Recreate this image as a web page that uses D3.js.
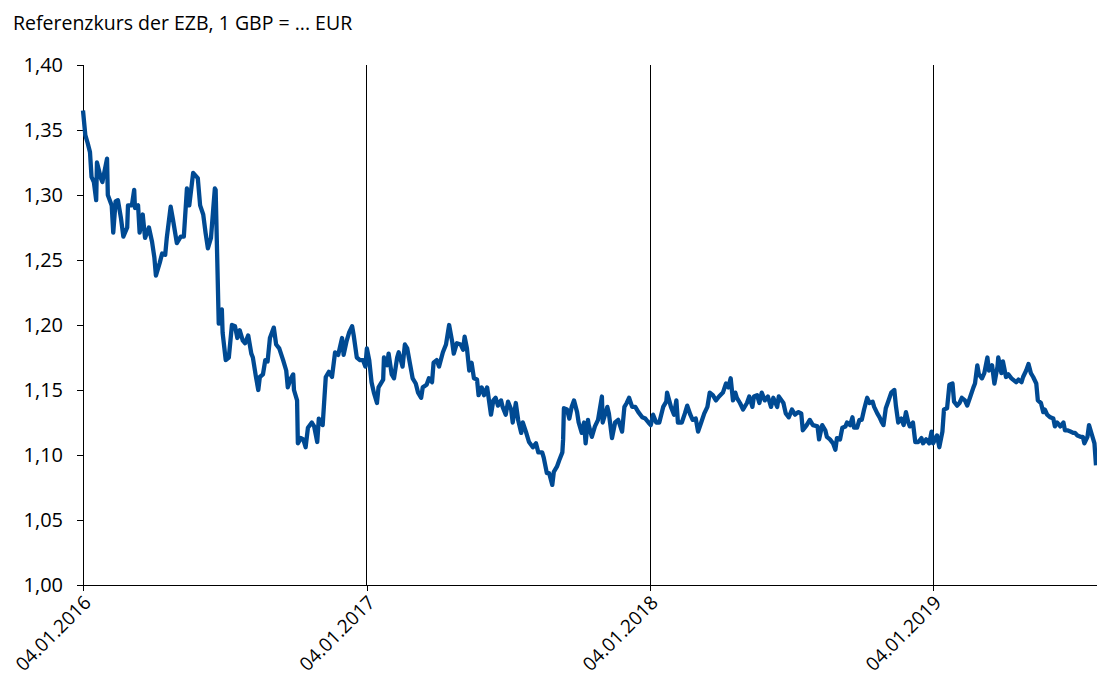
<!DOCTYPE html>
<head>
<meta charset="utf-8">
<title>Referenzkurs der EZB - GBP/EUR</title>
<style>
    body {
        margin: 0;
        background: white;
    }

    .title {
        font: 19.5px "Open Sans";
        fill: #000;
    }

    .axis text {
        font: 20px "Open Sans";
        fill: #000;
    }

    .axis--x text {
        font-size: 19px;
    }

    .axis path,
    .axis line,
    .grid line {
        fill: none;
        stroke: #000;
        stroke-width: 1px;
        shape-rendering: crispEdges;
    }

    .line {
        fill: none;
        stroke-width: 4.3px;
        stroke: #004a93;
        stroke-linejoin: round;
    }
</style>
</head>
<body>
<svg></svg>
<script src="https://cdn.jsdelivr.net/npm/d3@7"></script>
<script>

    // Referenzkurs der EZB, 1 GBP = ... EUR
    var dates2016 = ["04.01.2016", "07.01.2016", "10.01.2016", "13.01.2016", "15.01.2016", "18.01.2016", "21.01.2016", "22.01.2016",
        "27.01.2016", "29.01.2016", "04.02.2016", "05.02.2016", "10.02.2016", "12.02.2016", "15.02.2016", "18.02.2016",
        "22.02.2016", "25.02.2016", "01.03.2016", "02.03.2016", "07.03.2016", "10.03.2016", "11.03.2016", "15.03.2016",
        "17.03.2016", "21.03.2016", "24.03.2016", "29.03.2016", "02.04.2016", "05.04.2016", "07.04.2016", "12.04.2016",
        "15.04.2016", "19.04.2016", "21.04.2016", "26.04.2016", "29.04.2016", "04.05.2016", "09.05.2016", "13.05.2016",
        "17.05.2016", "20.05.2016", "25.05.2016", "31.05.2016", "03.06.2016", "07.06.2016", "10.06.2016", "13.06.2016",
        "17.06.2016", "20.06.2016", "22.06.2016", "23.06.2016", "27.06.2016", "01.07.2016", "02.07.2016", "06.07.2016",
        "10.07.2016", "14.07.2016", "18.07.2016", "21.07.2016", "24.07.2016", "28.07.2016", "31.07.2016", "04.08.2016",
        "08.08.2016", "10.08.2016", "14.08.2016", "17.08.2016", "19.08.2016", "23.08.2016", "26.08.2016", "29.08.2016",
        "01.09.2016", "06.09.2016", "09.09.2016", "13.09.2016", "18.09.2016", "22.09.2016", "24.09.2016", "28.09.2016",
        "01.10.2016", "02.10.2016", "06.10.2016", "07.10.2016", "11.10.2016", "14.10.2016", "17.10.2016", "20.10.2016",
        "25.10.2016", "28.10.2016", "01.11.2016", "03.11.2016", "06.11.2016", "08.11.2016", "12.11.2016", "16.11.2016",
        "20.11.2016", "24.11.2016", "28.11.2016", "03.12.2016", "05.12.2016", "09.12.2016", "12.12.2016", "16.12.2016",
        "18.12.2016", "22.12.2016", "26.12.2016", "30.12.2016"];
    var rates2016 = [1.365, 1.346, 1.340, 1.333, 1.314, 1.310, 1.296, 1.325,
        1.313, 1.310, 1.328, 1.300, 1.292, 1.271, 1.295, 1.296,
        1.282, 1.268, 1.275, 1.292, 1.292, 1.304, 1.290, 1.292,
        1.271, 1.285, 1.267, 1.275, 1.264, 1.252, 1.238, 1.248,
        1.255, 1.254, 1.267, 1.291, 1.281, 1.263, 1.268, 1.268,
        1.305, 1.292, 1.317, 1.313, 1.292, 1.285, 1.271, 1.259,
        1.267, 1.290, 1.305, 1.304, 1.201, 1.212, 1.194, 1.173,
        1.175, 1.200, 1.199, 1.190, 1.196, 1.188, 1.186, 1.192,
        1.178, 1.175, 1.160, 1.150, 1.160, 1.162, 1.173, 1.172,
        1.190, 1.198, 1.185, 1.182, 1.173, 1.165, 1.152, 1.159,
        1.162, 1.150, 1.142, 1.109, 1.113, 1.112, 1.106, 1.121,
        1.125, 1.122, 1.110, 1.128, 1.125, 1.123, 1.160, 1.164,
        1.160, 1.179, 1.177, 1.190, 1.177, 1.188, 1.194, 1.199,
        1.192, 1.175, 1.173, 1.173];

    var dates2017 = ["02.01.2017", "04.01.2017", "07.01.2017", "10.01.2017", "13.01.2017", "17.01.2017", "19.01.2017", "25.01.2017",
        "26.01.2017", "30.01.2017", "01.02.2017", "05.02.2017", "08.02.2017", "12.02.2017", "14.02.2017", "19.02.2017",
        "22.02.2017", "25.02.2017", "28.02.2017", "04.03.2017", "08.03.2017", "11.03.2017", "15.03.2017", "17.03.2017",
        "22.03.2017", "25.03.2017", "29.03.2017", "31.03.2017", "04.04.2017", "07.04.2017", "12.04.2017", "16.04.2017",
        "20.04.2017", "24.04.2017", "26.04.2017", "30.04.2017", "05.05.2017", "08.05.2017", "10.05.2017", "13.05.2017",
        "16.05.2017", "19.05.2017", "22.05.2017", "26.05.2017", "28.05.2017", "01.06.2017", "04.06.2017", "08.06.2017",
        "09.06.2017", "13.06.2017", "16.06.2017", "19.06.2017", "22.06.2017", "26.06.2017", "28.06.2017", "02.07.2017",
        "05.07.2017", "09.07.2017", "11.07.2017", "15.07.2017", "18.07.2017", "22.07.2017", "24.07.2017", "28.07.2017",
        "01.08.2017", "06.08.2017", "10.08.2017", "13.08.2017", "18.08.2017", "20.08.2017", "24.08.2017", "27.08.2017",
        "31.08.2017", "02.09.2017", "06.09.2017", "09.09.2017", "13.09.2017", "14.09.2017", "15.09.2017", "19.09.2017",
        "22.09.2017", "25.09.2017", "28.09.2017", "02.10.2017", "04.10.2017", "08.10.2017", "11.10.2017", "13.10.2017",
        "16.10.2017", "17.10.2017", "21.10.2017", "25.10.2017", "29.10.2017", "03.11.2017", "04.11.2017", "10.11.2017",
        "12.11.2017", "16.11.2017", "20.11.2017", "24.11.2017", "29.11.2017", "02.12.2017", "05.12.2017", "08.12.2017",
        "12.12.2017", "16.12.2017", "20.12.2017", "25.12.2017", "29.12.2017"];
    var rates2017 = [1.168, 1.182, 1.173, 1.156, 1.148, 1.140, 1.152, 1.158,
        1.175, 1.169, 1.178, 1.162, 1.159, 1.175, 1.179, 1.168,
        1.185, 1.182, 1.172, 1.159, 1.155, 1.148, 1.144, 1.152,
        1.154, 1.159, 1.156, 1.171, 1.173, 1.168, 1.179, 1.185,
        1.200, 1.187, 1.178, 1.186, 1.185, 1.181, 1.191, 1.182,
        1.165, 1.171, 1.159, 1.158, 1.146, 1.152, 1.146, 1.152,
        1.148, 1.131, 1.142, 1.144, 1.138, 1.142, 1.137, 1.131,
        1.141, 1.135, 1.125, 1.140, 1.127, 1.117, 1.125, 1.118,
        1.110, 1.106, 1.109, 1.102, 1.102, 1.098, 1.086, 1.086,
        1.077, 1.087, 1.091, 1.096, 1.102, 1.112, 1.136, 1.135,
        1.128, 1.137, 1.142, 1.133, 1.125, 1.117, 1.125, 1.109,
        1.127, 1.123, 1.114, 1.122, 1.127, 1.145, 1.125, 1.137,
        1.132, 1.113, 1.125, 1.127, 1.118, 1.137, 1.140, 1.144,
        1.137, 1.137, 1.133, 1.129, 1.128];

    var dates2018 = ["02.01.2018", "05.01.2018", "08.01.2018", "12.01.2018", "16.01.2018", "21.01.2018", "25.01.2018", "26.01.2018",
        "31.01.2018", "04.02.2018", "07.02.2018", "09.02.2018", "14.02.2018", "18.02.2018", "21.02.2018", "25.02.2018",
        "28.02.2018", "04.03.2018", "07.03.2018", "11.03.2018", "15.03.2018", "19.03.2018", "22.03.2018", "26.03.2018",
        "30.03.2018", "03.04.2018", "08.04.2018", "12.04.2018", "15.04.2018", "18.04.2018", "21.04.2018", "24.04.2018",
        "26.04.2018", "30.04.2018", "04.05.2018", "09.05.2018", "12.05.2018", "16.05.2018", "18.05.2018", "22.05.2018",
        "25.05.2018", "28.05.2018", "01.06.2018", "05.06.2018", "09.06.2018", "12.06.2018", "17.06.2018", "19.06.2018",
        "25.06.2018", "28.06.2018", "02.07.2018", "06.07.2018", "10.07.2018", "14.07.2018", "18.07.2018", "20.07.2018",
        "25.07.2018", "29.07.2018", "02.08.2018", "08.08.2018", "10.08.2018", "14.08.2018", "18.08.2018", "20.08.2018",
        "24.08.2018", "28.08.2018", "31.08.2018", "02.09.2018", "06.09.2018", "09.09.2018", "13.09.2018", "15.09.2018",
        "19.09.2018", "22.09.2018", "24.09.2018", "28.09.2018", "01.10.2018", "04.10.2018", "07.10.2018", "11.10.2018",
        "14.10.2018", "18.10.2018", "20.10.2018", "24.10.2018", "27.10.2018", "30.10.2018", "01.11.2018", "04.11.2018",
        "07.11.2018", "11.11.2018", "15.11.2018", "17.11.2018", "20.11.2018", "24.11.2018", "27.11.2018", "30.11.2018",
        "03.12.2018", "05.12.2018", "09.12.2018", "12.12.2018", "16.12.2018", "20.12.2018", "22.12.2018", "26.12.2018",
        "30.12.2018"];
    var rates2018 = [1.125, 1.123, 1.131, 1.125, 1.125, 1.137, 1.141, 1.148,
        1.137, 1.131, 1.142, 1.125, 1.125, 1.132, 1.138, 1.131,
        1.127, 1.128, 1.118, 1.125, 1.132, 1.137, 1.148, 1.146,
        1.142, 1.145, 1.148, 1.155, 1.152, 1.159, 1.142, 1.148,
        1.144, 1.140, 1.135, 1.140, 1.145, 1.137, 1.145, 1.146,
        1.140, 1.148, 1.142, 1.145, 1.137, 1.144, 1.137, 1.145,
        1.140, 1.132, 1.129, 1.135, 1.131, 1.133, 1.132, 1.119,
        1.123, 1.127, 1.123, 1.122, 1.112, 1.123, 1.119, 1.114,
        1.112, 1.109, 1.104, 1.113, 1.112, 1.121, 1.122, 1.125,
        1.123, 1.129, 1.121, 1.121, 1.127, 1.127, 1.135, 1.144,
        1.140, 1.141, 1.137, 1.132, 1.129, 1.125, 1.123, 1.136,
        1.141, 1.148, 1.150, 1.138, 1.125, 1.128, 1.123, 1.133,
        1.125, 1.122, 1.125, 1.110, 1.110, 1.113, 1.109, 1.112,
        1.109];

    var dates2019 = ["02.01.2019", "04.01.2019", "09.01.2019", "12.01.2019", "16.01.2019", "18.01.2019", "22.01.2019", "25.01.2019",
        "29.01.2019", "31.01.2019", "04.02.2019", "07.02.2019", "10.02.2019", "14.02.2019", "17.02.2019", "21.02.2019",
        "25.02.2019", "27.02.2019", "02.03.2019", "04.03.2019", "08.03.2019", "11.03.2019", "15.03.2019", "17.03.2019",
        "21.03.2019", "24.03.2019", "28.03.2019", "29.03.2019", "02.04.2019", "04.04.2019", "08.04.2019", "11.04.2019",
        "15.04.2019", "17.04.2019", "21.04.2019", "24.04.2019", "28.04.2019", "30.04.2019", "04.05.2019", "07.05.2019",
        "10.05.2019", "13.05.2019", "17.05.2019", "19.05.2019", "23.05.2019", "26.05.2019", "28.05.2019", "31.05.2019",
        "04.06.2019", "08.06.2019", "10.06.2019", "13.06.2019", "17.06.2019", "21.06.2019", "23.06.2019", "26.06.2019",
        "30.06.2019", "04.07.2019", "06.07.2019", "09.07.2019", "13.07.2019", "16.07.2019", "18.07.2019", "22.07.2019",
        "24.07.2019", "28.07.2019", "31.07.2019", "02.08.2019"];
    var rates2019 = [1.118, 1.109, 1.115, 1.106, 1.118, 1.135, 1.136, 1.154,
        1.155, 1.141, 1.138, 1.140, 1.144, 1.142, 1.138, 1.145,
        1.152, 1.155, 1.169, 1.162, 1.159, 1.163, 1.175, 1.165,
        1.169, 1.155, 1.168, 1.175, 1.163, 1.172, 1.160, 1.162,
        1.159, 1.158, 1.156, 1.158, 1.156, 1.160, 1.165, 1.170,
        1.163, 1.160, 1.155, 1.142, 1.140, 1.133, 1.135, 1.131,
        1.129, 1.128, 1.122, 1.125, 1.122, 1.125, 1.119, 1.119,
        1.118, 1.117, 1.117, 1.115, 1.114, 1.114, 1.109, 1.114,
        1.123, 1.115, 1.109, 1.092];

    var yTicks = [1.00, 1.05, 1.10, 1.15, 1.20, 1.25, 1.30, 1.35, 1.40];
    var xTickLabels = ["04.01.2016", "04.01.2017", "04.01.2018", "04.01.2019"];
    var titleText = "Referenzkurs der EZB, 1 GBP = ... EUR";

    var parseDate = d3.timeParse("%d.%m.%Y"),
        formatDate = d3.timeFormat("%d.%m.%Y"),
        de = d3.formatLocale({decimal: ",", thousands: ".", grouping: [3], currency: ["", " €"]}),
        formatRate = de.format(".2f");

    var allDates = dates2016.concat(dates2017, dates2018, dates2019),
        allRates = rates2016.concat(rates2017, rates2018, rates2019);

    var data = allDates.map(function (d, i) {
        return {date: parseDate(d), value: allRates[i]};
    });

    var svg = d3.select("svg")
        .attr("width", 1097)
        .attr("height", 682);

    var margin = {top: 65, right: 1, bottom: 97, left: 83},
        width = +svg.attr("width") - margin.left - margin.right,
        height = +svg.attr("height") - margin.top - margin.bottom;

    svg.append("text")
        .attr("class", "title")
        .attr("x", 13)
        .attr("y", 30)
        .text(titleText);

    var g = svg.append("g")
        .attr("transform", "translate(" + margin.left + "," + margin.top + ")");

    var x = d3.scaleTime()
        .domain([parseDate(xTickLabels[0]), d3.max(data, function (d) { return d.date; })])
        .range([0, width]);

    var y = d3.scaleLinear()
        .domain([yTicks[0], yTicks[yTicks.length - 1]])
        .range([height, 0]);

    var xTicks = xTickLabels.map(parseDate);

    // senkrechte Linien an den Jahresanfängen
    g.append("g")
        .attr("class", "grid")
        .selectAll("line")
        .data(xTicks.slice(1))
        .enter().append("line")
        .attr("x1", function (d) { return x(d); })
        .attr("x2", function (d) { return x(d); })
        .attr("y1", 0)
        .attr("y2", height);

    g.append("g")
        .attr("class", "axis axis--y")
        .call(d3.axisLeft(y).tickValues(yTicks).tickFormat(formatRate).tickSize(6).tickPadding(14))
        .call(function (a) { a.select(".domain").attr("d", "M0,0V" + height); });

    var xAxis = g.append("g")
        .attr("class", "axis axis--x")
        .attr("transform", "translate(0," + height + ")")
        .call(d3.axisBottom(x).tickValues(xTicks).tickFormat(formatDate).tickSize(6).tickSizeOuter(0));

    xAxis.selectAll("text")
        .attr("x", 0)
        .attr("y", 0)
        .attr("dy", "0.35em")
        .style("text-anchor", "end")
        .attr("transform", "translate(4,14) rotate(-45)");

    g.append("path")
        .datum(data)
        .attr("class", "line")
        .attr("d", d3.line()
            .x(function (d) { return x(d.date); })
            .y(function (d) { return y(d.value); }));

</script>
</body>
